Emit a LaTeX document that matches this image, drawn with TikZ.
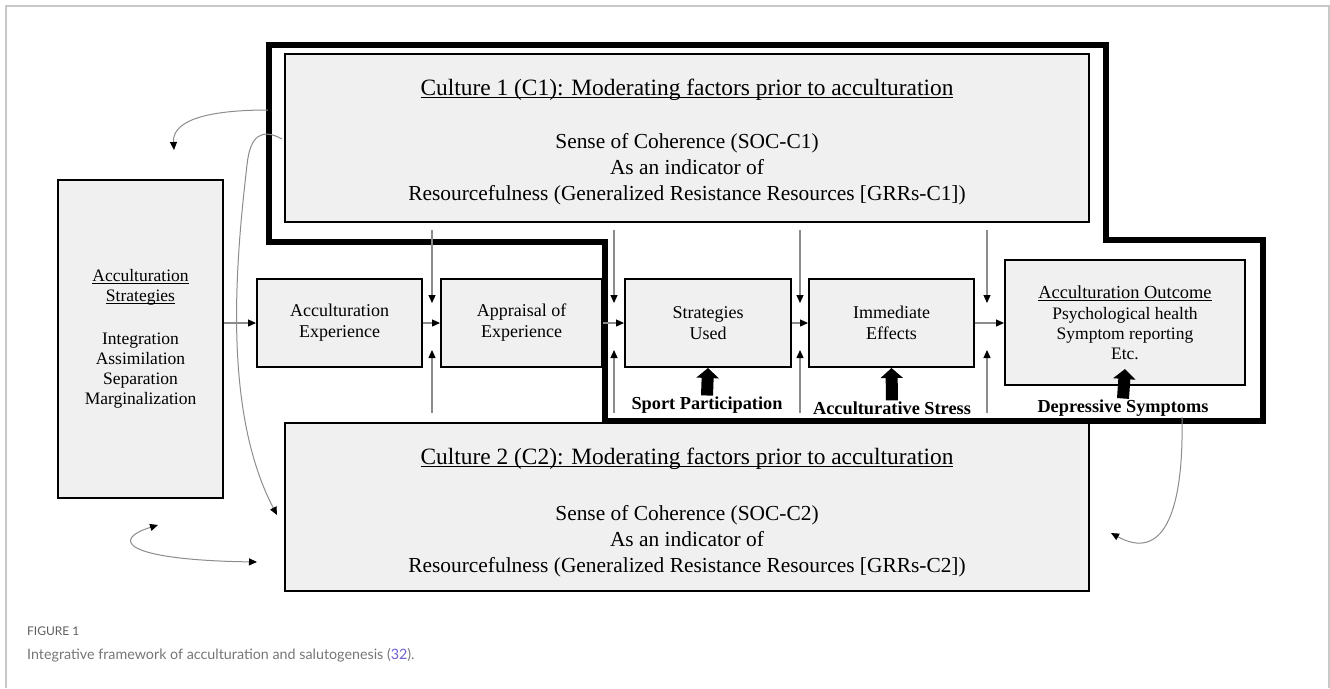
\documentclass[tikz,border=0pt]{standalone}
\usepackage{fontspec}
\setmainfont{Liberation Serif}
\newfontfamily\captionfont{Lato}
\newlength{\ulbarwd}
\newcommand{\ulbar}[1]{\settowidth{\ulbarwd}{#1}\rlap{\rule[-2.6pt]{\ulbarwd}{1.1pt}}#1}
\usepackage{tikz}
\usetikzlibrary{arrows.meta,positioning}
\definecolor{boxgray}{HTML}{F0F0F0}
\definecolor{linegray}{HTML}{8C8C8C}
\definecolor{framegray}{HTML}{C8C8C8}
\definecolor{captiongray}{HTML}{5E5E5E}
\definecolor{citeblue}{HTML}{6C5FD6}
\tikzset{box node/.style={rectangle, draw=black, line width=2pt, fill=boxgray,
    inner sep=0pt, align=center, font=\fontsize{18}{21}\selectfont}}
\tikzset{culture node/.style={box node, minimum width=804pt, minimum height=168pt,
    font=\fontsize{21.4}{26}\selectfont}}
\tikzset{label node/.style={inner sep=1pt, font=\bfseries\fontsize{18.3}{21}\selectfont}}
\tikzset{small edge/.style={draw=linegray, line width=1.2pt,
    -{Triangle[color=black, fill=black, length=8pt, width=7pt]}}}
\tikzset{curve edge/.style={small edge, line width=1pt}}
\tikzset{both edge/.style={curve edge,
    {Triangle[color=black, fill=black, length=8pt, width=7pt]}-{Triangle[color=black, fill=black, length=8pt, width=7pt]}}}
\tikzset{block edge/.style={draw=black, line width=12pt, -{Triangle[length=10pt, width=22pt]}}}
\tikzset{outline edge/.style={draw=black, line width=6pt, line join=miter}}

\begin{document}
\begin{tikzpicture}
      [x=1pt, y=-1pt]
      \useasboundingbox (0,0) rectangle (1330,688);
      \draw [framegray, line width=1.5pt] (6,688) -- (6,6) -- (1329,6) -- (1329,688);

      \node [culture node] (c1) at (687,137.5)
        {\mbox{}\\[-1pt]
         {\fontsize{23.4}{28}\selectfont\ulbar{Culture 1 (C1): Moderating factors prior to acculturation}}\\[27pt]
         Sense of Coherence (SOC-C1)\\ As an indicator of\\
         Resourcefulness (Generalized Resistance Resources [GRRs-C1])};
      \node [culture node] (c2) at (687,507)
        {\mbox{}\\[1pt]
         {\fontsize{23.4}{28}\selectfont\ulbar{Culture 2 (C2): Moderating factors prior to acculturation}}\\[30pt]
         Sense of Coherence (SOC-C2)\\ As an indicator of\\
         Resourcefulness (Generalized Resistance Resources [GRRs-C2])};

      \node [box node, minimum width=165pt, minimum height=318pt,
             font=\fontsize{17.5}{20}\selectfont] (as) at (140.5,339)
        {\ulbar{Acculturation}\\ \ulbar{Strategies}\\[23pt]
         Integration\\ Assimilation\\ Separation\\ Marginalization};
      \node [box node, minimum width=165pt, minimum height=88pt] (ae) at (339.5,323) {Acculturation\\ Experience};
      \node [box node, minimum width=161pt, minimum height=88pt] (ap) at (521.5,323) {Appraisal of\\ Experience};
      \node [box node, minimum width=166pt, minimum height=88pt] (su) at (708,323)   {Strategies\\ Used};
      \node [box node, minimum width=165pt, minimum height=88pt] (ie) at (891.5,323) {Immediate\\ Effects};
      \node [box node, minimum width=240pt, minimum height=125pt,
             font=\fontsize{17.5}{20}\selectfont] (ao) at (1125,322.5)
        {{\fontsize{18.4}{22}\selectfont\ulbar{Acculturation Outcome}}\\[1pt]
         Psychological health\\ Symptom reporting\\ Etc.};

      \draw [outline edge] (269,45) -- (1106,45) -- (1106,240) -- (1263,240)
        -- (1263,421) -- (605,421) -- (605,242) -- (269,242) -- cycle;

      \node [label node] (sp) at (707,405)  {Sport Participation};
      \node [label node] (st) at (892,408)  {Acculturative Stress};
      \node [label node] (ds) at (1123,408) {Depressive Symptoms};

      \draw [block edge] (sp.north) -- (su.south);
      \draw [block edge] (st.north) -- (ie.south);
      \draw [block edge] (ds.north) -- ([yshift=17pt]ao.south);

      \draw [small edge] (as.east |- ae.west) -- (ae.west);
      \draw [small edge] (ae) -- (ap);
      \draw [small edge] (ap) -- (su);
      \draw [small edge] (su) -- (ie);
      \draw [small edge] (ie.east) -- (ao.west |- ie.east);

      % moderating arrows from C1 and C2
      \foreach \x [count=\i] in {432,614,800,987} {
        \coordinate (up\i)    at (\x,230);
        \coordinate (upend\i) at (\x,303);
        \coordinate (lo\i)    at (\x,413);
        \coordinate (loend\i) at (\x,350);
        \draw [small edge] (up\i) -- (upend\i);
        \draw [small edge] (lo\i) -- (loend\i);
      }

      \coordinate (c1out) at (268,110);
      \coordinate (c1in)  at (282,139);
      \coordinate (asup)  at (174,150);
      \coordinate (c2in)  at (277,515);
      \coordinate (asdn)  at (158,525);
      \coordinate (c2dn)  at (257,562);
      \coordinate (dsdn)  at (1182,417);
      \coordinate (c2rt)  at (1111,533);
      \draw [curve edge] (c1out) .. controls (215,110) and (172,118) .. (asup);
      \draw [curve edge] (c1in) .. controls (262,128) and (250,135) .. (247,165)
        .. controls (236,260) and (222,410) .. (c2in);
      \draw [both edge] (asdn) .. controls (110,540) and (125,560) .. (c2dn);
      \draw [curve edge] (dsdn) .. controls (1184,520) and (1160,560) .. (c2rt);

      \node [anchor=west, inner sep=0pt, text=captiongray,
             font=\captionfont\fontsize{12}{14}\selectfont] (fig) at (27,631) {FIGURE 1};
      \node [anchor=west, inner sep=0pt, text=captiongray!85,
             font=\captionfont\fontsize{14.3}{17}\selectfont] (cap) at (27,655)
        {Integrative framework of acculturation and salutogenesis (\textcolor{citeblue}{32}).};
    \end{tikzpicture}
\end{document}
